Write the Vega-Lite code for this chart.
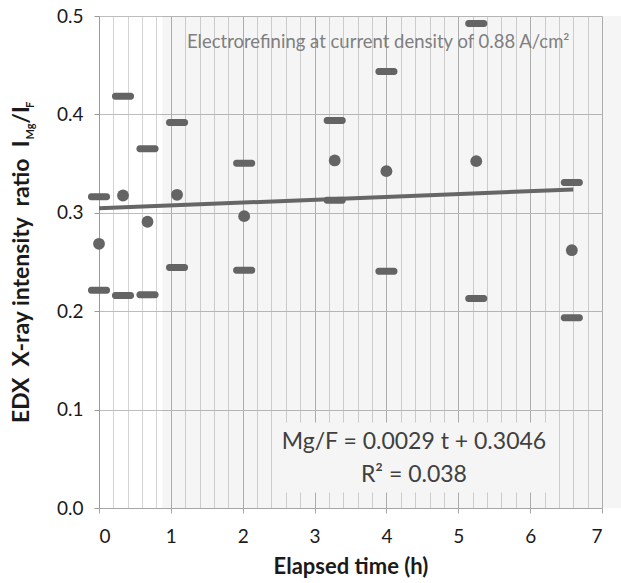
{
  "$schema": "https://vega.github.io/schema/vega-lite/v6.json",
  "width": 503,
  "height": 492,
  "autosize": {"type": "none"},
  "padding": {"left": 99, "top": 16, "right": 19, "bottom": 75},
  "background": "white",
  "config": {"view": {"stroke": null}, "font": "Lato"},
  "datasets": {
    "obs": [
      {"t": 0.0, "mean": 0.2685, "max": 0.3163, "min": 0.2213},
      {"t": 0.334, "mean": 0.3176, "max": 0.4185, "min": 0.216},
      {"t": 0.675, "mean": 0.2909, "max": 0.365, "min": 0.2167},
      {"t": 1.086, "mean": 0.3183, "max": 0.3918, "min": 0.2444},
      {"t": 2.02, "mean": 0.2966, "max": 0.3504, "min": 0.2417},
      {"t": 3.28, "mean": 0.3532, "max": 0.3938, "min": 0.3128},
      {"t": 4.0, "mean": 0.3423, "max": 0.4436, "min": 0.2407},
      {"t": 5.25, "mean": 0.3525, "max": 0.4924, "min": 0.2129},
      {"t": 6.58, "mean": 0.262, "max": 0.3308, "min": 0.1933}
    ],
    "fit": [{"t": 0, "ratio": 0.3046}, {"t": 6.6, "ratio": 0.3237}],
    "shade": [{"t0": 0.88, "t1": 7.3, "r0": 0, "r1": 0.5}],
    "box": [{"t0": 2.49, "t1": 6.25, "r0": 0.0157, "r1": 0.0868}],
    "one": [{}]
  },
  "resolve": {"axis": {"x": "independent"}},
  "layer": [
    {
      "data": {"name": "shade"},
      "mark": {"type": "rect", "fill": "#000000", "opacity": 0.04, "clip": false},
      "encoding": {
        "x": {"field": "t0", "type": "quantitative", "scale": {"domain": [0, 7], "nice": false, "zero": false},
          "axis": {"orient": "top", "values": [0.2,0.4,0.6,0.8,1.2,1.4,1.6,1.8,2.2,2.4,2.6,2.8,3.2,3.4,3.6,3.8,4.2,4.4,4.6,4.8,5.2,5.4,5.6,5.8,6.2,6.4,6.6,6.8],
            "grid": true, "gridColor": "#d4d4d4", "labels": false, "ticks": false, "domain": false, "title": null}},
        "x2": {"field": "t1"},
        "y": {"field": "r0", "type": "quantitative", "scale": {"domain": [0, 0.5], "nice": false, "zero": false},
          "axis": {"values": [0, 0.1, 0.2, 0.3, 0.4, 0.5], "format": ".1f", "grid": true, "gridColor": "#bdbdbd",
            "domainColor": "#9a9a9a", "tickColor": "#9a9a9a", "tickSize": 5, "labelFontSize": 19, "labelColor": "#1a1a1a",
            "labelPadding": 11, "title": null}},
        "y2": {"field": "r1"}
      }
    },
    {
      "data": {"name": "box"},
      "mark": {"type": "rect", "fill": "#f5f5f5"},
      "encoding": {
        "x": {"field": "t0", "type": "quantitative", "scale": {"domain": [0, 7], "nice": false, "zero": false}, "axis": null},
        "x2": {"field": "t1"},
        "y": {"field": "r0", "type": "quantitative", "scale": {"domain": [0, 0.5], "nice": false, "zero": false}},
        "y2": {"field": "r1"}
      }
    },
    {
      "data": {"name": "fit"},
      "mark": {"type": "line", "color": "#666666", "strokeWidth": 4},
      "encoding": {
        "x": {"field": "t", "type": "quantitative", "scale": {"domain": [0, 7], "nice": false, "zero": false}, "axis": null},
        "y": {"field": "ratio", "type": "quantitative", "scale": {"domain": [0, 0.5], "nice": false, "zero": false}}
      }
    },
    {
      "data": {"name": "obs"},
      "mark": {"type": "circle", "color": "#646464", "opacity": 1, "size": 140},
      "encoding": {
        "x": {"field": "t", "type": "quantitative", "scale": {"domain": [0, 7], "nice": false, "zero": false},
          "axis": {"orient": "bottom", "values": [0, 1, 2, 3, 4, 5, 6, 7], "grid": true, "gridColor": "#b3b3b3",
            "domainColor": "#a6a6a6", "tickColor": "#a6a6a6", "tickSize": 5, "labelFontSize": 19, "labelColor": "#1a1a1a",
            "labelPadding": 14, "title": "Elapsed time (h)", "titleFontSize": 22, "titleFontWeight": "bold",
            "titleColor": "#1a1a1a", "titlePadding": 10}},
        "y": {"field": "mean", "type": "quantitative", "scale": {"domain": [0, 0.5], "nice": false, "zero": false}}
      }
    },
    {
      "data": {"name": "obs"},
      "mark": {"type": "tick", "orient": "horizontal", "color": "#646464", "opacity": 1, "size": 22, "thickness": 7, "cornerRadius": 3},
      "encoding": {
        "x": {"field": "t", "type": "quantitative", "scale": {"domain": [0, 7], "nice": false, "zero": false}, "axis": null},
        "y": {"field": "max", "type": "quantitative", "scale": {"domain": [0, 0.5], "nice": false, "zero": false}}
      }
    },
    {
      "data": {"name": "obs"},
      "mark": {"type": "tick", "orient": "horizontal", "color": "#646464", "opacity": 1, "size": 22, "thickness": 7, "cornerRadius": 3},
      "encoding": {
        "x": {"field": "t", "type": "quantitative", "scale": {"domain": [0, 7], "nice": false, "zero": false}, "axis": null},
        "y": {"field": "min", "type": "quantitative", "scale": {"domain": [0, 0.5], "nice": false, "zero": false}}
      }
    },
    {
      "data": {"name": "one"},
      "mark": {"type": "text", "text": "Electrorefining at current density of 0.88 A/cm²", "fontSize": 18.5, "color": "#7f7f7f", "align": "center", "baseline": "middle"},
      "encoding": {
        "x": {"datum": 3.886, "type": "quantitative", "scale": {"domain": [0, 7], "nice": false, "zero": false}, "axis": null},
        "y": {"datum": 0.4736, "type": "quantitative", "scale": {"domain": [0, 0.5], "nice": false, "zero": false}}
      }
    },
    {
      "data": {"name": "one"},
      "mark": {"type": "text", "text": "Mg/F = 0.0029 t + 0.3046", "fontSize": 23, "color": "#404040", "align": "center", "baseline": "middle"},
      "encoding": {
        "x": {"datum": 4.383, "type": "quantitative", "scale": {"domain": [0, 7], "nice": false, "zero": false}, "axis": null},
        "y": {"datum": 0.0666, "type": "quantitative", "scale": {"domain": [0, 0.5], "nice": false, "zero": false}}
      }
    },
    {
      "data": {"name": "one"},
      "mark": {"type": "text", "text": "R² = 0.038", "fontSize": 23, "color": "#404040", "align": "center", "baseline": "middle"},
      "encoding": {
        "x": {"datum": 4.383, "type": "quantitative", "scale": {"domain": [0, 7], "nice": false, "zero": false}, "axis": null},
        "y": {"datum": 0.034, "type": "quantitative", "scale": {"domain": [0, 0.5], "nice": false, "zero": false}}
      }
    },
    {
      "data": {"name": "one"},
      "mark": {"type": "text", "text": "EDX\u00a0\u00a0X-ray intensity\u00a0\u00a0ratio\u00a0\u00a0I", "fontSize": 23, "fontWeight": "bold", "color": "#1a1a1a", "angle": 270, "align": "right", "baseline": "alphabetic"},
      "encoding": {
        "x": {"datum": -0.974, "type": "quantitative", "scale": {"domain": [0, 7], "nice": false, "zero": false}, "axis": null},
        "y": {"datum": 0.3735, "type": "quantitative", "scale": {"domain": [0, 0.5], "nice": false, "zero": false}}
      }
    },
    {
      "data": {"name": "one"},
      "mark": {"type": "text", "text": "Mg", "fontSize": 11, "fontWeight": "bold", "color": "#1a1a1a", "angle": 270, "align": "left", "baseline": "alphabetic", "dy": 5},
      "encoding": {
        "x": {"datum": -0.974, "type": "quantitative", "scale": {"domain": [0, 7], "nice": false, "zero": false}, "axis": null},
        "y": {"datum": 0.3745, "type": "quantitative", "scale": {"domain": [0, 0.5], "nice": false, "zero": false}}
      }
    },
    {
      "data": {"name": "one"},
      "mark": {"type": "text", "text": "/I", "fontSize": 23, "fontWeight": "bold", "color": "#1a1a1a", "angle": 270, "align": "left", "baseline": "alphabetic"},
      "encoding": {
        "x": {"datum": -0.974, "type": "quantitative", "scale": {"domain": [0, 7], "nice": false, "zero": false}, "axis": null},
        "y": {"datum": 0.3905, "type": "quantitative", "scale": {"domain": [0, 0.5], "nice": false, "zero": false}}
      }
    },
    {
      "data": {"name": "one"},
      "mark": {"type": "text", "text": "F", "fontSize": 11, "fontWeight": "bold", "color": "#1a1a1a", "angle": 270, "align": "left", "baseline": "alphabetic", "dy": 5},
      "encoding": {
        "x": {"datum": -0.974, "type": "quantitative", "scale": {"domain": [0, 7], "nice": false, "zero": false}, "axis": null},
        "y": {"datum": 0.4065, "type": "quantitative", "scale": {"domain": [0, 0.5], "nice": false, "zero": false}}
      }
    }
  ]
}
